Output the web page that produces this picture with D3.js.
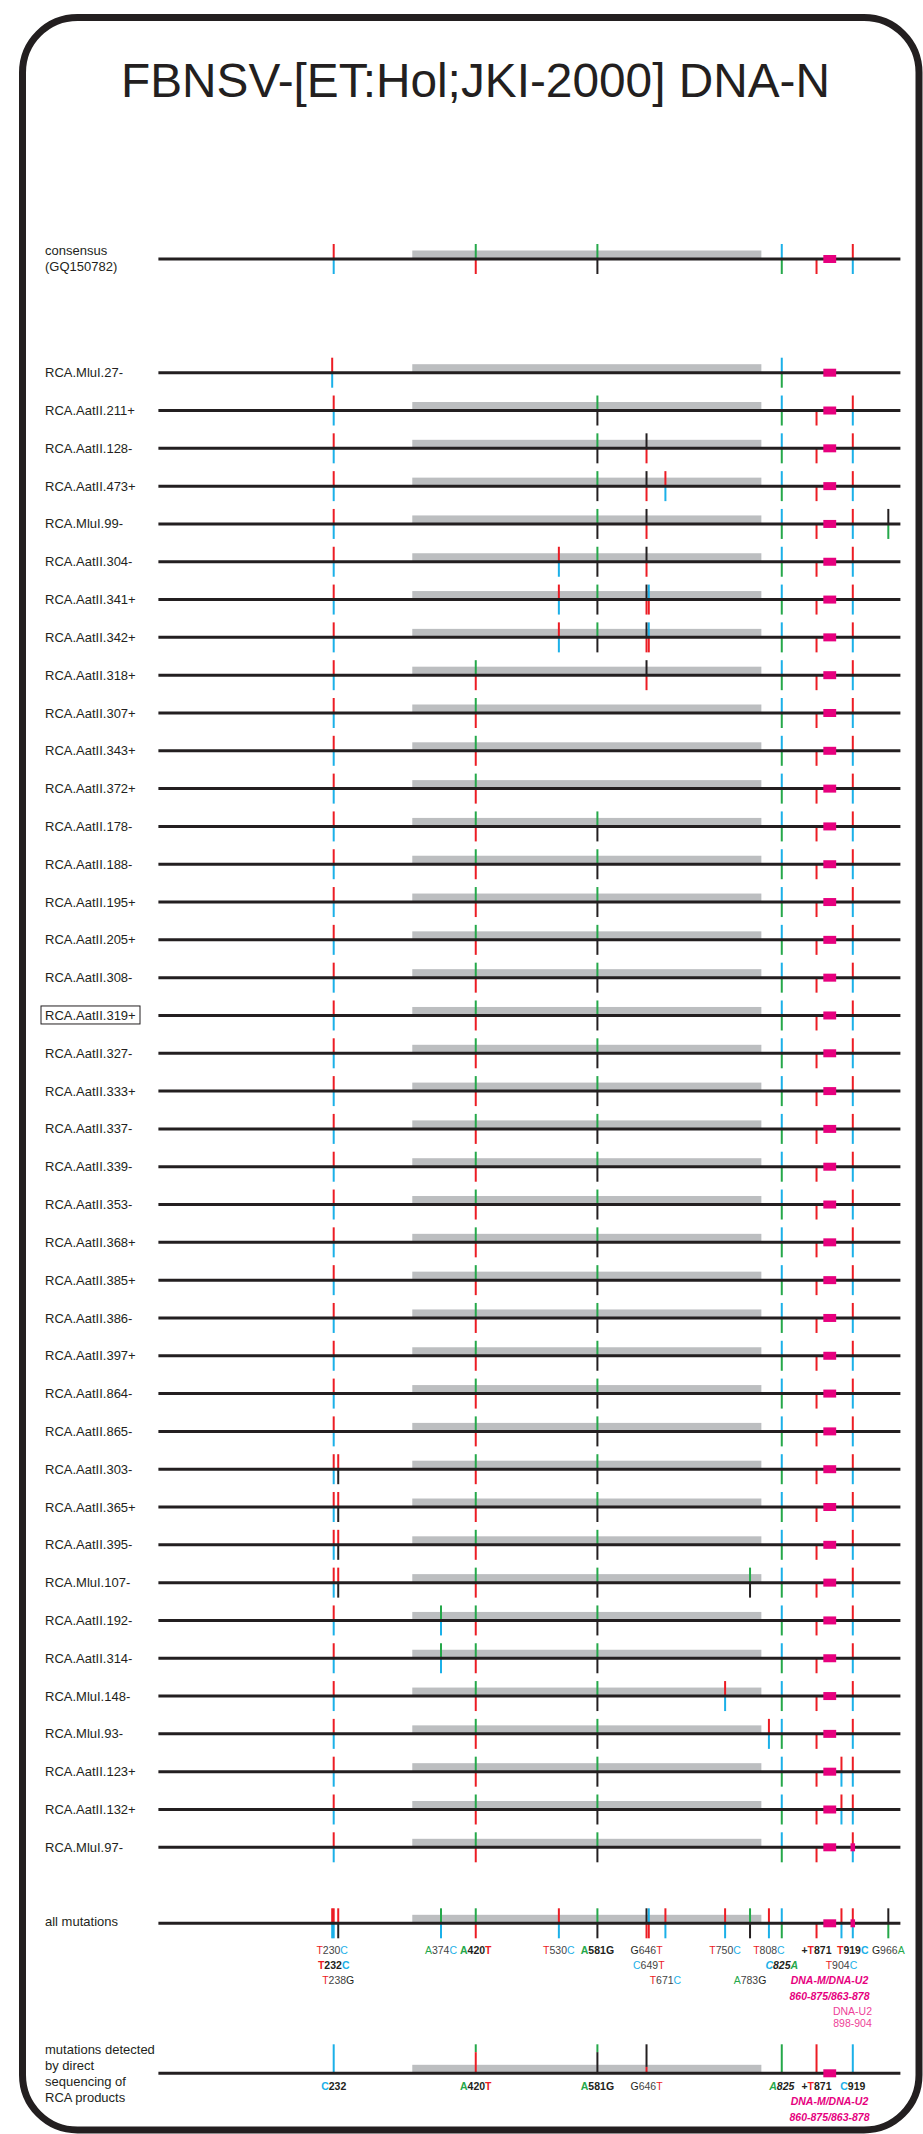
<!DOCTYPE html>
<html>
<head>
<meta charset="utf-8">
<script src="https://cdn.jsdelivr.net/npm/d3@7"></script>
<style>
  body { margin: 0; background: #fff; }
  text { font-family: "Liberation Sans", Arial, Helvetica, sans-serif; }
</style>
</head>
<body>
<svg id="chart" width="923" height="2134"></svg>
<script>
// ---- data ----
const title = "FBNSV-[ET:Hol;JKI-2000] DNA-N";
const genomeLength = 982;
const orfRange = [336, 798];          // grey box
const motifMain = [880, 897];         // DNA-M/DNA-U2 box as drawn
const motifU2 = [916, 922];           // DNA-U2 898-904 box as drawn

const consensusSites = ["T232C", "A420T", "A581G", "C825A", "+T871", "T919C"];

const rowNames = [
  "RCA.MluI.27-", "RCA.AatII.211+", "RCA.AatII.128-", "RCA.AatII.473+", "RCA.MluI.99-",
  "RCA.AatII.304-", "RCA.AatII.341+", "RCA.AatII.342+", "RCA.AatII.318+", "RCA.AatII.307+",
  "RCA.AatII.343+", "RCA.AatII.372+", "RCA.AatII.178-", "RCA.AatII.188-", "RCA.AatII.195+",
  "RCA.AatII.205+", "RCA.AatII.308-", "RCA.AatII.319+", "RCA.AatII.327-", "RCA.AatII.333+",
  "RCA.AatII.337-", "RCA.AatII.339-", "RCA.AatII.353-", "RCA.AatII.368+", "RCA.AatII.385+",
  "RCA.AatII.386-", "RCA.AatII.397+", "RCA.AatII.864-", "RCA.AatII.865-", "RCA.AatII.303-",
  "RCA.AatII.365+", "RCA.AatII.395-", "RCA.MluI.107-", "RCA.AatII.192-", "RCA.AatII.314-",
  "RCA.MluI.148-", "RCA.MluI.93-", "RCA.AatII.123+", "RCA.AatII.132+", "RCA.MluI.97-"
];

const C = consensusSites;
const rowSites = [
  ["T230C", "C825A"],
  ["T232C", "A581G", "C825A", "+T871", "T919C"],
  ["T232C", "A581G", "G646T", "C825A", "+T871", "T919C"],
  ["T232C", "A581G", "G646T", "T671C", "C825A", "+T871", "T919C"],
  ["T232C", "A581G", "G646T", "C825A", "+T871", "T919C", "G966A"],
  ["T232C", "T530C", "A581G", "G646T", "C825A", "+T871", "T919C"],
  ["T232C", "T530C", "A581G", "G646T", "C649T", "C825A", "+T871", "T919C"],
  ["T232C", "T530C", "A581G", "G646T", "C649T", "C825A", "+T871", "T919C"],
  ["T232C", "A420T", "G646T", "C825A", "+T871", "T919C"],
  ["T232C", "A420T", "C825A", "+T871", "T919C"],
  ["T232C", "A420T", "C825A", "+T871", "T919C"],
  ["T232C", "A420T", "C825A", "+T871", "T919C"],
  C, C, C, C, C, C, C, C, C, C, C, C, C, C, C, C, C,
  [...C, "T238G"],
  [...C, "T238G"],
  [...C, "T238G"],
  [...C, "T238G", "A783G"],
  [...C, "A374C"],
  [...C, "A374C"],
  [...C, "T750C"],
  [...C, "T808C"],
  [...C, "T904C"],
  [...C, "T904C"],
  C
];
const rowsWithU2 = ["RCA.MluI.97-"];
const boxedRows = ["RCA.AatII.319+"];

const allSites = [
  "T230C", "T232C", "T238G", "A374C", "A420T", "T530C", "A581G", "G646T", "C649T",
  "T671C", "T750C", "A783G", "T808C", "C825A", "+T871", "T904C", "T919C", "G966A"
];
// [label, text line, style]
const allLabels = [
  ["T230C", 0, ""], ["A374C", 0, ""], ["A420T", 0, "b"], ["T530C", 0, ""], ["A581G", 0, "b"],
  ["G646T", 0, ""], ["T750C", 0, ""], ["T808C", 0, ""], ["+T871", 0, "b"], ["T919C", 0, "b"],
  ["G966A", 0, ""],
  ["T232C", 1, "b"], ["C649T", 1, ""], ["C825A", 1, "bi"], ["T904C", 1, ""],
  ["T238G", 2, ""], ["T671C", 2, ""], ["A783G", 2, ""]
];

// direct sequencing: position, stacked colours top->bottom with share of tick
const directSites = [
  { pos: 232, parts: [["C", 1]] },
  { pos: 420, parts: [["A", 0.27], ["T", 0.73]] },
  { pos: 581, parts: [["A", 0.27], ["G", 0.73]] },
  { pos: 646, parts: [["G", 0.78], ["T", 0.22]] },
  { pos: 825, parts: [["A", 1]] },
  { pos: 871, parts: [["T", 1]] },
  { pos: 919, parts: [["C", 1]] }
];
const directLabels = [
  ["C232", "b"], ["A420T", "b"], ["A581G", "b"], ["G646T", ""], ["A825", "bi"], ["+T871", "b"], ["C919", "b"]
];

const nucColor = { A: "#25a84a", C: "#1bb0e8", G: "#231f20", T: "#ec1c24" };
const pink = "#e6007e";

// ---- drawing ----
const svg = d3.select("#chart");
const x = d3.scaleLinear().domain([0, genomeLength]).range([158.4, 900.4]);
const yRow = d3.scalePoint().domain(rowNames).range([372.7, 1847.3]);
const yConsensus = 259, yAll = 1923.3, yDirect = 2073.3;

// frame
svg.append("rect")
  .attr("x", 22.5).attr("y", 17.5)
  .attr("width", 896.5).attr("height", 2112.5)
  .attr("rx", 55).attr("ry", 55)
  .attr("fill", "none").attr("stroke", "#231f20").attr("stroke-width", 7);

svg.append("text")
  .attr("x", 121).attr("y", 97)
  .attr("textLength", 709).attr("lengthAdjust", "spacingAndGlyphs")
  .style("font-size", "48px").attr("fill", "#231f20")
  .text(title);

const parseSite = (code) => {
  const m = code.match(/^(\+?)([ACGT])(\d+)([ACGT]?)$/);
  return { ins: m[1] === "+", ref: m[2], pos: +m[3], alt: m[4] };
};

function siteSegments(codes) {
  const segs = [];
  codes.map(parseSite).forEach((s) => {
    if (s.ins) {
      segs.push({ x: x(s.pos), y1: 0, y2: 15, color: nucColor[s.ref] });
    } else {
      segs.push({ x: x(s.pos), y1: -15, y2: 0, color: nucColor[s.ref] });
      segs.push({ x: x(s.pos), y1: 0, y2: 15, color: nucColor[s.alt] });
    }
  });
  return segs;
}

function drawTrack(y, segs, withU2) {
  const g = svg.append("g").attr("transform", `translate(0,${y})`);
  g.append("rect")
    .attr("x", x(orfRange[0])).attr("y", -8.5)
    .attr("width", x(orfRange[1]) - x(orfRange[0])).attr("height", 8.5)
    .attr("fill", "#bcbec0");
  g.selectAll(".tick")
    .data(segs)
    .join("line")
    .attr("class", "tick")
    .attr("x1", (d) => d.x).attr("x2", (d) => d.x)
    .attr("y1", (d) => d.y1).attr("y2", (d) => d.y2)
    .attr("stroke", (d) => d.color).attr("stroke-width", 2);
  g.append("line")
    .attr("x1", x(0)).attr("x2", x(genomeLength))
    .attr("stroke", "#231f20").attr("stroke-width", 3);
  const motifs = withU2 ? [motifMain, motifU2] : [motifMain];
  g.selectAll(".motif")
    .data(motifs)
    .join("rect")
    .attr("class", "motif")
    .attr("x", (d) => x(d[0])).attr("y", -4)
    .attr("width", (d) => x(d[1]) - x(d[0])).attr("height", 8)
    .attr("fill", pink);
  return g;
}

function richLabel(g, code, cx, cy, style, size) {
  const bold = style.includes("b"), italic = style.includes("i");
  const t = g.append("text")
    .attr("x", cx).attr("y", cy).attr("dy", "0.35em")
    .attr("text-anchor", "middle")
    .style("font-size", size + "px")
    .style("font-weight", bold ? "bold" : "normal")
    .style("font-style", italic ? "italic" : "normal");
  code.match(/\+|[ACGT]|\d+/g).forEach((p) => {
    t.append("tspan")
      .attr("fill", nucColor[p] || (bold ? "#231f20" : "#444"))
      .text(p);
  });
}

function leftLabel(lines, y0, dy) {
  svg.append("g").selectAll("text")
    .data(lines)
    .join("text")
    .attr("x", 45).attr("y", (d, i) => y0 + i * dy).attr("dy", "0.35em")
    .style("font-size", "13px").attr("fill", "#231f20")
    .text((d) => d);
}

// consensus
drawTrack(yConsensus, siteSegments(consensusSites), false);
leftLabel(["consensus", "(GQ150782)"], yConsensus - 8.5, 16);

// clones
rowNames.forEach((name, i) => {
  const y = yRow(name);
  drawTrack(y, siteSegments(rowSites[i]), rowsWithU2.includes(name));
  leftLabel([name], y, 0);
  if (boxedRows.includes(name)) {
    svg.append("rect")
      .attr("x", 41).attr("y", y - 9.5).attr("width", 99).attr("height", 18)
      .attr("fill", "none").attr("stroke", "#231f20").attr("stroke-width", 1);
  }
});

// all mutations
const gAll = drawTrack(yAll, siteSegments(allSites), true);
leftLabel(["all mutations"], yAll - 1.5, 0);
const allLineOffsets = [27.4, 41.7, 56.7];
allLabels.forEach(([code, line, style]) => {
  richLabel(gAll, code, x(parseSite(code).pos), allLineOffsets[line], style, 10.5);
});
gAll.selectAll(".motif-label")
  .data([
    { text: "DNA-M/DNA-U2", cx: 829.5, dy: 56.7, w: "bold", s: "italic", c: pink },
    { text: "860-875/863-878", cx: 829.5, dy: 73.4, w: "bold", s: "italic", c: pink },
    { text: "DNA-U2", cx: 852.5, dy: 88.4, w: "normal", s: "normal", c: "#ee3f98" },
    { text: "898-904", cx: 852.5, dy: 100.5, w: "normal", s: "normal", c: "#ee3f98" }
  ])
  .join("text")
  .attr("class", "motif-label")
  .attr("x", (d) => d.cx).attr("y", (d) => d.dy).attr("dy", "0.35em")
  .attr("text-anchor", "middle")
  .style("font-size", "10.5px")
  .style("font-weight", (d) => d.w).style("font-style", (d) => d.s)
  .attr("fill", (d) => d.c)
  .text((d) => d.text);

// direct sequencing
const directSegs = [];
directSites.forEach((s) => {
  let top = -29;
  s.parts.forEach(([nuc, share]) => {
    directSegs.push({ x: x(s.pos), y1: top, y2: top + 29 * share, color: nucColor[nuc] });
    top += 29 * share;
  });
});
const gDirect = drawTrack(yDirect, directSegs, false);
leftLabel(["mutations detected", "by direct", "sequencing of", "RCA products"], 2049, 16);
directLabels.forEach(([code, style]) => {
  richLabel(gDirect, code, x(parseSite(code).pos), 12.7, style, 10.5);
});
gDirect.selectAll(".motif-label")
  .data(["DNA-M/DNA-U2", "860-875/863-878"])
  .join("text")
  .attr("class", "motif-label")
  .attr("x", 829.5).attr("y", (d, i) => 28.4 + i * 15.3).attr("dy", "0.35em")
  .attr("text-anchor", "middle")
  .style("font-size", "10.5px").style("font-weight", "bold").style("font-style", "italic")
  .attr("fill", pink)
  .text((d) => d);
</script>
</body>
</html>
